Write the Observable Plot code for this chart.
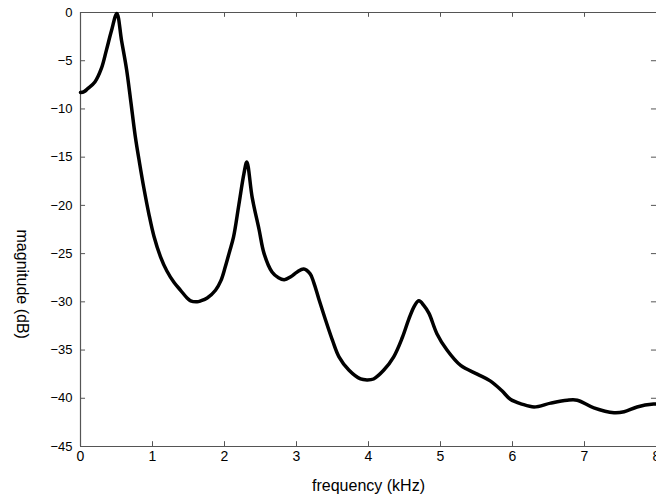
<!DOCTYPE html>
<html>
<head>
<meta charset="utf-8">
<script src="https://cdn.jsdelivr.net/npm/d3@7"></script>
<script src="https://cdn.jsdelivr.net/npm/@observablehq/plot@0.6"></script>
<style>
  html, body { margin: 0; padding: 0; background: #fff; }
  #chart svg { display: block; }
</style>
</head>
<body>
<div id="chart"></div>
<script>
const freqKHz = [0, 0.05, 0.1, 0.2, 0.29, 0.36, 0.43, 0.505, 0.57, 0.64, 0.7, 0.76, 0.82, 0.88, 0.95, 1.02, 1.11, 1.2, 1.3, 1.39, 1.48, 1.53, 1.62, 1.67, 1.76, 1.875, 1.95, 2.01, 2.07, 2.125, 2.2, 2.27, 2.31, 2.385, 2.48, 2.55, 2.66, 2.75, 2.83, 2.92, 3.01, 3.1, 3.19, 3.24, 3.31, 3.40, 3.50, 3.59, 3.73, 3.89, 3.98, 4.07, 4.21, 4.35, 4.47, 4.56, 4.64, 4.70, 4.77, 4.84, 4.95, 5.09, 5.28, 5.51, 5.69, 5.85, 5.97, 6.13, 6.30, 6.53, 6.76, 6.90, 7.13, 7.41, 7.55, 7.73, 7.96, 8.0];
const magnitudeDB = [-8.3, -8.2, -7.9, -7.2, -5.8, -3.9, -1.9, -0.1, -2.9, -5.9, -9.3, -12.8, -15.6, -18.2, -20.9, -23.2, -25.3, -26.8, -28.0, -28.8, -29.6, -29.9, -30.0, -29.9, -29.6, -28.8, -27.8, -26.4, -24.8, -23.3, -19.9, -16.7, -15.5, -19.2, -22.5, -25.0, -26.9, -27.5, -27.7, -27.4, -26.9, -26.6, -27.1, -28.0, -29.7, -31.8, -34.0, -35.7, -37.1, -38.0, -38.1, -38.0, -37.1, -35.7, -33.7, -31.8, -30.4, -29.9, -30.4, -31.2, -33.3, -35.0, -36.6, -37.5, -38.2, -39.2, -40.1, -40.6, -40.9, -40.5, -40.2, -40.2, -41.0, -41.5, -41.4, -40.9, -40.6, -40.6];
const xTicks = [0, 1, 2, 3, 4, 5, 6, 7, 8];
const yTicks = [0, -5, -10, -15, -20, -25, -30, -35, -40, -45];
const xLabel = "frequency (kHz)";
const yLabel = "magnitude (dB)";

const curve = freqKHz.map((f, i) => ({f, m: magnitudeDB[i]}));

const chart = Plot.plot({
  width: 656,
  height: 501,
  marginLeft: 80,
  marginRight: 0,
  marginTop: 12,
  marginBottom: 55,
  style: {fontFamily: "'Liberation Sans', Arial, sans-serif", fontSize: "14px", color: "#000", background: "#fff"},
  x: {domain: [0, 8]},
  y: {domain: [-45, 0]},
  marks: [
    Plot.ruleY([0, -45], {stroke: "#555", strokeWidth: 1.2}),
    Plot.ruleX([0], {stroke: "#555", strokeWidth: 1.2}),
    Plot.ruleX(xTicks, {x: d => d, y1: -45, y2: -44.5, stroke: "#555"}),
    Plot.ruleX(xTicks, {x: d => d, y1: 0, y2: -0.5, stroke: "#555"}),
    Plot.ruleY(yTicks, {y: d => d, x1: 0, x2: 0.07, stroke: "#555"}),
    Plot.ruleY(yTicks, {y: d => d, x1: 7.93, x2: 8, stroke: "#555"}),
    Plot.axisX(xTicks, {tickSize: 0, tickPadding: 5, fontSize: 14, label: null}),
    Plot.axisY(yTicks, {tickSize: 0, tickPadding: 8, fontSize: 13, label: null}),
    Plot.line(curve, {x: "f", y: "m", curve: "catmull-rom", stroke: "#000", strokeWidth: 3.5, strokeLinejoin: "round", strokeLinecap: "round"}),
    Plot.text([xLabel], {text: d => d, frameAnchor: "bottom", dy: 44, fontSize: 16}),
    Plot.text([yLabel], {text: d => d, frameAnchor: "left", dx: -58, rotate: 90, fontSize: 16})
  ]
});
document.getElementById("chart").appendChild(chart);
</script>
</body>
</html>
